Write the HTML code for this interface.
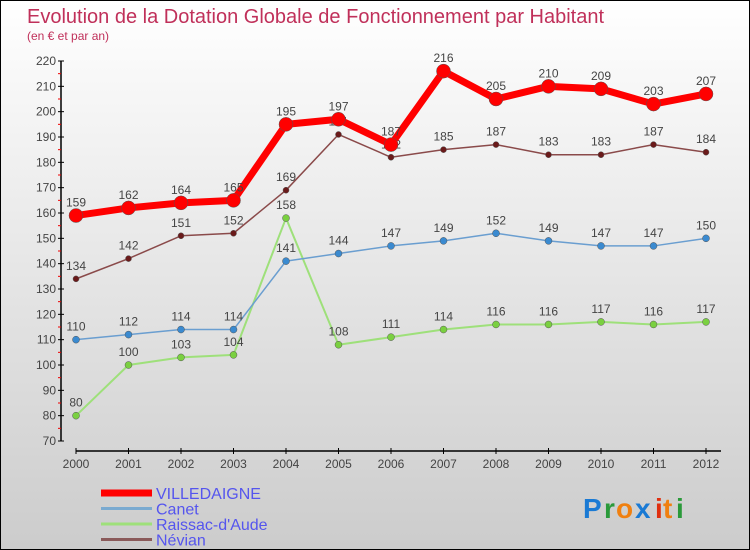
<!DOCTYPE html>
<html><head><meta charset="utf-8"><style>
html,body{margin:0;padding:0}
body{width:750px;height:550px;overflow:hidden;font-family:"Liberation Sans",sans-serif}
#wrap{position:relative;width:748px;height:548px;border:1px solid #000;background:linear-gradient(#fff,#ccc)}
svg{position:absolute;left:0;top:0}
</style></head><body>
<div id="wrap">
<svg id="c" width="748" height="548">
<text x="26" y="22" font-size="20" fill="#c0305a">Evolution de la Dotation Globale de Fonctionnement par Habitant</text>
<text x="26" y="39" font-size="12" fill="#c0305a">(en € et par an)</text>
<g font-size="28" font-weight="bold">
<text x="582" y="517" fill="#1a7ad4">P</text><text x="603" y="517" fill="#2a9a3a">r</text><text x="615" y="517" fill="#f08010">o</text><text x="634" y="517" fill="#1a7ad4">x</text><text x="654" y="517" fill="#e03010">i</text><text x="662" y="517" fill="#f08010">t</text><text x="675" y="517" fill="#2a9a3a">i</text>
</g>
</svg>
</div>
<script>
const years=["2000","2001","2002","2003","2004","2005","2006","2007","2008","2009","2010","2011","2012"];
const yTicks=[70,80,90,100,110,120,130,140,150,160,170,180,190,200,210,220];
const villedaigne=[159,162,164,165,195,197,187,216,205,210,209,203,207];
const canet=[110,112,114,114,141,144,147,149,152,149,147,147,150];
const raissac=[80,100,103,104,158,108,111,114,116,116,117,116,117];
const nevian=[134,142,151,152,169,191,182,185,187,183,183,187,184];
const svg=document.getElementById('c');const NS='http://www.w3.org/2000/svg';
function X(i){return 75+i*52.5;}
function Y(v){return 440-(v-70)*380/150;}
function mk(t,a,p){const e=document.createElementNS(NS,t);for(const k in a)e.setAttribute(k,a[k]);(p||svg).appendChild(e);return e;}
const ax=mk('g',{});


mk('line',{x1:60,y1:60,x2:60,y2:440,stroke:'#000','stroke-width':1.5},ax);
yTicks.forEach(v=>{mk('line',{x1:57,y1:Y(v),x2:63,y2:Y(v),stroke:'#000'},ax);
 if(v<220)mk('line',{x1:57,y1:Y(v+5),x2:60,y2:Y(v+5),stroke:'#e00'},ax);
 const t=mk('text',{x:55,y:Y(v)+4,'text-anchor':'end','font-size':12,fill:'#444'},ax);t.textContent=v;});
const xa=mk('g',{});


mk('line',{x1:75,y1:450,x2:720,y2:450,stroke:'#000','stroke-width':1.5},xa);
years.forEach((y,i)=>{mk('line',{x1:X(i),y1:447,x2:X(i),y2:453,stroke:'#000'},xa);
 const t=mk('text',{x:X(i),y:467,'text-anchor':'middle','font-size':12,fill:'#444'},xa);t.textContent=y;});
function series(name,data,color,w,r,dot){
 const g=mk('g',{});
 
 
 mk('polyline',{points:data.map((v,i)=>X(i)+','+Y(v)).join(' '),fill:'none',stroke:color,'stroke-width':w,'stroke-linejoin':'round'},g);
 data.forEach((v,i)=>{const c=mk('circle',{cx:X(i),cy:Y(v),r:r,fill:dot,stroke:'#555','stroke-width':0.5},g);
  
  
  const t=mk('text',{x:X(i),y:Y(v)-9,'text-anchor':'middle','font-size':12,fill:'#444'},g);t.textContent=v;});
}
series('nevian',nevian,'#8a4a4a',1.5,3,'#6a1a1a');
series('raissac',raissac,'#9ee07a',2,3.5,'#7ad040');
series('canet',canet,'#6a9ed0',1.5,3.5,'#3a8ad0');
series('villedaigne',villedaigne,'#f00',7,7,'#f00');
const leg=[["VILLEDAIGNE","#f00",7],["Canet","#7aaad0",3],["Raissac-d'Aude","#9ee07a",3],["Névian","#8a5a5a",3]];
leg.forEach((l,i)=>{const g=mk('g',{});
 
 
 const y=492+i*15.5;
 mk('line',{x1:100,y1:y,x2:151,y2:y,stroke:l[1],'stroke-width':l[2]},g);
 const t=mk('text',{x:155,y:y+6,'font-size':16,fill:'#55e'},g);t.textContent=l[0];});
</script>
</body></html>
